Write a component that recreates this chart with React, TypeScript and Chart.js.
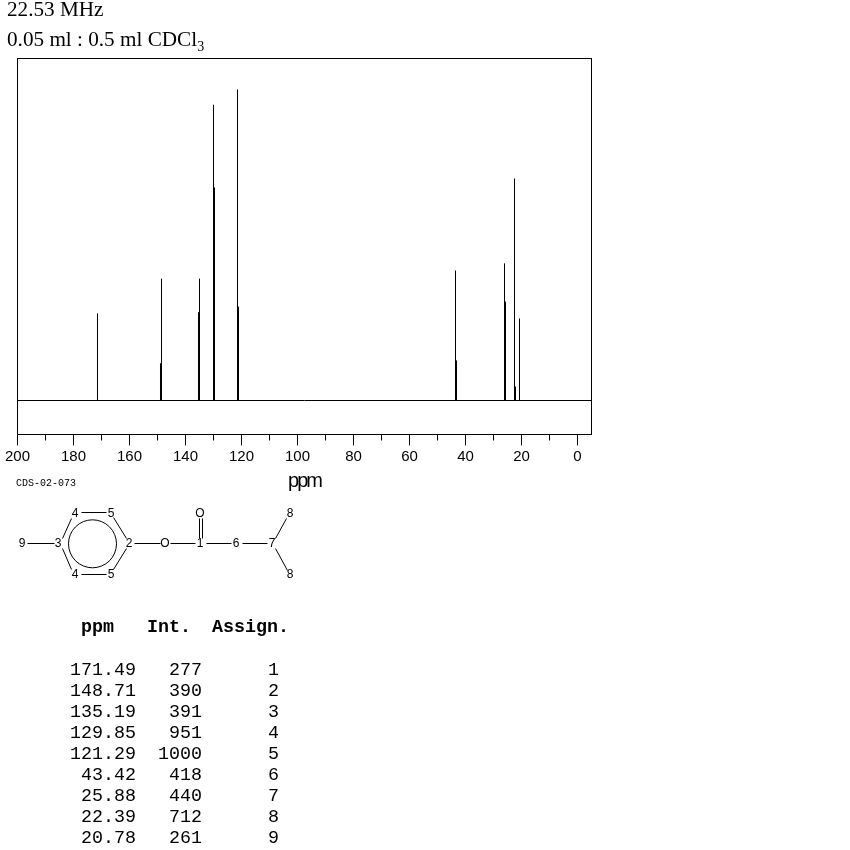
import React, { useEffect, useRef } from "react";
import { Chart, registerables } from "chart.js";

Chart.register(...registerables);

// Spectrum values
const tallPpm = [171.43, 148.57, 135.0, 130.0, 121.43, 43.57, 26.07, 22.5, 20.71];
const tallInt = [280, 392, 392, 951, 1000, 418, 441, 714, 264];
const shoulderPpm = [148.93, 135.36, 129.64, 121.07, 43.21, 25.71, 22.14];
const shoulderInt = [120, 284, 685, 302, 129, 318, 45];
const axisTicks = [200, 190, 180, 170, 160, 150, 140, 130, 120, 110, 100, 90, 80, 70, 60, 50, 40, 30, 20, 10, 0];
const ppmRange = [-5, 200];
const intRange = [-109.3, 1099.7];

// Table text
const tablePpm = ["171.49", "148.71", "135.19", "129.85", "121.29", "43.42", "25.88", "22.39", "20.78"];
const tableInt = ["277", "390", "391", "951", "1000", "418", "440", "712", "261"];
const tableAssign = ["1", "2", "3", "4", "5", "6", "7", "8", "9"];

// Structure diagram
const atoms: [string, number, number][] = [
  ["9", 22, 543], ["3", 58, 543], ["4", 75, 513], ["5", 111, 513], ["2", 129, 543],
  ["4", 75, 574], ["5", 111, 574], ["O", 165, 543], ["1", 200, 543], ["O", 200, 513],
  ["6", 236, 543], ["7", 272, 543], ["8", 290, 513], ["8", 290, 574],
];
const bonds: [number, number, number, number][] = [
  [27, 543, 54, 543], [62, 538, 71, 518], [62, 548, 71, 569], [81, 512, 106, 512], [81, 574, 106, 574],
  [113, 517, 126, 538], [113, 569, 126, 548], [134, 543, 160, 543], [170, 543, 195, 543],
  [199, 518, 199, 538], [202, 518, 202, 538], [206, 543, 231, 543], [242, 543, 267, 543],
  [275, 538, 286, 518], [275, 548, 287, 570],
];

const sticks = (ppm: number[], ints: number[]) =>
  ppm.flatMap((p, i) => [{ x: p, y: 0 }, { x: p, y: ints[i] }, { x: p, y: null }]);

const framePlugin = {
  id: "frame",
  afterDraw(chart: any) {
    const { ctx, chartArea: a, scales } = chart;
    ctx.save();
    ctx.strokeStyle = "#000";
    ctx.lineWidth = 1;
    ctx.strokeRect(a.left, a.top, a.right - a.left, a.bottom - a.top);
    ctx.beginPath();
    for (const t of scales.x.ticks) {
      const x = scales.x.getPixelForValue(t.value);
      ctx.moveTo(x, a.bottom);
      ctx.lineTo(x, a.bottom + (t.value % 20 === 0 ? 11 : 6));
    }
    ctx.stroke();
    ctx.restore();
  },
};

const abs = (left: number, top: number): React.CSSProperties => ({ position: "absolute", left, top, margin: 0 });
const serif: React.CSSProperties = { fontFamily: "'Liberation Serif'", fontSize: 21.2, lineHeight: "24px", color: "#000", whiteSpace: "nowrap" };
const mono: React.CSSProperties = { fontFamily: "'Liberation Mono'", fontSize: 18.33, lineHeight: "21px", color: "#000", whiteSpace: "nowrap" };

export default function App() {
  const ref = useRef<HTMLCanvasElement>(null);
  useEffect(() => {
    const chart = new Chart(ref.current!, {
      type: "line",
      data: {
        datasets: [
          { data: [{ x: ppmRange[0], y: 0 }, { x: ppmRange[1], y: 0 }], borderColor: "#000", borderWidth: 1, pointRadius: 0 },
          { data: sticks(tallPpm, tallInt), borderColor: "#000", borderWidth: 1, pointRadius: 0, spanGaps: false },
          { data: sticks(shoulderPpm, shoulderInt), borderColor: "#000", borderWidth: 1, pointRadius: 0, spanGaps: false },
        ],
      } as any,
      options: {
        responsive: false,
        animation: false,
        layout: { padding: { left: 17.5, top: 58.5, right: 258.5, bottom: 356.5 } },
        plugins: { legend: { display: false }, tooltip: { enabled: false }, title: { display: false } },
        scales: {
          x: {
            type: "linear",
            reverse: true,
            min: ppmRange[0],
            max: ppmRange[1],
            grid: { display: false, drawTicks: false },
            border: { display: false },
            afterBuildTicks: (s: any) => { s.ticks = axisTicks.map((value) => ({ value })); },
            afterFit: (s: any) => {
              s.height = 59;
              s.paddingLeft = 0;
              s.paddingRight = 0;
              if (!s._tight) {
                s._tight = true;
                const drawTitle = s.drawTitle;
                s.drawTitle = function () {
                  this.ctx.save();
                  this.ctx.letterSpacing = "-2px";
                  drawTitle.call(this);
                  this.ctx.restore();
                };
              }
            },
            ticks: {
              autoSkip: false,
              maxRotation: 0,
              padding: 13,
              color: "#000",
              font: { family: "'Liberation Sans'", size: 15 },
              callback: (v: any) => (Number(v) % 20 === 0 ? String(v) : ""),
            },
            title: { display: true, text: "ppm", color: "#000", font: { family: "'Liberation Sans'", size: 20 }, padding: 0 },
          } as any,
          y: { display: false, min: intRange[0], max: intRange[1] },
        },
      },
      plugins: [framePlugin],
    });
    return () => chart.destroy();
  }, []);

  return (
    <div style={{ position: "absolute", left: 0, top: 0, width: 850, height: 850, background: "#fff", overflow: "hidden" }}>
      <canvas ref={ref} width={850} height={850} style={{ position: "absolute", left: 0, top: 0 }} />
      <div style={{ ...abs(7, -3), ...serif }}>22.53 MHz</div>
      <div style={{ ...abs(7, 27), ...serif }}>
        0.05 ml : 0.5 ml CDCl<sub style={{ fontSize: 14, lineHeight: 0 }}>3</sub>
      </div>
      <div style={{ ...abs(16, 478), fontFamily: "'Liberation Mono'", fontSize: 10, lineHeight: "12px", color: "#000" }}>CDS-02-073</div>
      <svg width={850} height={850} style={{ position: "absolute", left: 0, top: 0 }}>
        <circle cx={92.5} cy={543.8} r={24} fill="none" stroke="#000" strokeWidth={1} />
        {bonds.map(([x1, y1, x2, y2], i) => (
          <line key={i} x1={x1 + 0.5} y1={y1 + 0.5} x2={x2 + 0.5} y2={y2 + 0.5} stroke="#000" strokeWidth={1} />
        ))}
        {atoms.map(([label, x, y], i) => (
          <text key={i} x={x} y={y + 4} textAnchor="middle" fontFamily="'Liberation Sans'" fontSize={12} fill="#000">{label}</text>
        ))}
      </svg>
      <div style={{ ...abs(81, 617), ...mono, fontWeight: "bold" }}>ppm</div>
      <div style={{ ...abs(147, 617), ...mono, fontWeight: "bold" }}>Int.</div>
      <div style={{ ...abs(212, 617), ...mono, fontWeight: "bold" }}>Assign.</div>
      {tablePpm.map((p, i) => (
        <React.Fragment key={i}>
          <div style={{ ...mono, position: "absolute", right: 850 - 136, top: 660 + i * 21 }}>{p}</div>
          <div style={{ ...mono, position: "absolute", right: 850 - 202, top: 660 + i * 21 }}>{tableInt[i]}</div>
          <div style={{ ...mono, position: "absolute", right: 850 - 279, top: 660 + i * 21 }}>{tableAssign[i]}</div>
        </React.Fragment>
      ))}
    </div>
  );
}
